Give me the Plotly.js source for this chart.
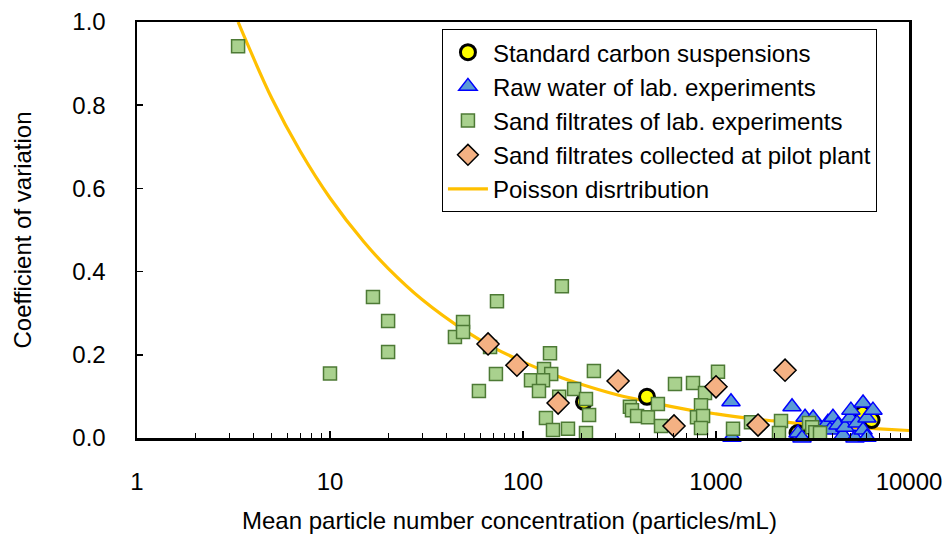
<!DOCTYPE html>
<html>
<head>
<meta charset="utf-8">
<script src="https://cdn.plot.ly/plotly-3.0.1.min.js"></script>
<style>html,body{margin:0;padding:0;background:#fff;}#chart{width:946px;height:539px;}</style>
</head>
<body>
<div id="chart"></div>
<script>
// Standard carbon suspensions
const carbonX = [207, 439, 2646, 5750, 6400];
const carbonY = [0.087, 0.099, 0.012, 0.058, 0.043];

// Raw water of lab. experiments
const rawX = [1196, 1210, 2477, 2660, 2790, 2893, 3185, 3458, 3803, 3899, 4037, 4285, 4550, 4660, 4945, 5000, 5250, 5380, 5780, 5780, 6055, 6055, 6505];
const rawY = [0.087, 0.002, 0.075, 0.012, 0.0, 0.050, 0.048, 0.024, 0.038, 0.019, 0.050, 0.031, 0.007, 0.026, 0.048, 0.067, 0.0, 0.036, 0.084, 0.019, 0.048, 0.002, 0.067];

// Sand filtrates of lab. experiments
const sandLabX = [3.34, 10, 16.7, 20, 20, 44.4, 48.9, 48.9, 73.3, 67.5, 72.4, 59.1, 138, 128.5, 140, 110, 127, 121, 159, 233, 184, 154, 212, 220, 131.5, 143, 171, 212, 358, 367, 390, 444, 500, 519, 613, 760, 1024, 877, 836, 797, 857, 836, 1225, 1518, 2172, 2120, 3034, 3150, 3270, 3458];
const sandLabY = [0.942, 0.155, 0.339, 0.281, 0.207, 0.243, 0.279, 0.255, 0.329, 0.219, 0.154, 0.113, 0.204, 0.166, 0.154, 0.139, 0.139, 0.113, 0.365, 0.161, 0.118, 0.099, 0.094, 0.055, 0.048, 0.019, 0.022, 0.012, 0.075, 0.067, 0.053, 0.050, 0.082, 0.029, 0.130, 0.132, 0.159, 0.108, 0.079, 0.050, 0.053, 0.024, 0.022, 0.038, 0.041, 0.012, 0.036, 0.026, 0.014, 0.012];

// Sand filtrates collected at pilot plant
const pilotX = [65.9, 93, 152, 311, 606, 1000, 1651, 2279];
const pilotY = [0.226, 0.175, 0.084, 0.137, 0.029, 0.123, 0.031, 0.163];

// Poisson disrtribution
const poissonX = [3.34, 5, 7, 10, 15, 20, 30, 50, 70, 100, 150, 200, 300, 500, 700, 1000, 1500, 2000, 3000, 5000, 7000, 10000];
const poissonY = [1.0, 0.816, 0.69, 0.577, 0.471, 0.408, 0.333, 0.258, 0.218, 0.183, 0.149, 0.129, 0.105, 0.082, 0.069, 0.058, 0.047, 0.041, 0.033, 0.026, 0.022, 0.018];

const xTickVals = [1, 10, 100, 1000, 10000];
const xTickText = ['1', '10', '100', '1000', '10000'];
const xMinorVals = [];
[1, 10, 100, 1000].forEach(d => { for (let k = 2; k <= 9; k++) xMinorVals.push(d * k); });

const xTitle = 'Mean particle number concentration (particles/mL)';
const yTitle = 'Coefficient of variation';

const FONT = 'Arial, "Liberation Sans", sans-serif';

const traces = [
  {
    x: poissonX, y: poissonY, type: 'scatter', mode: 'lines',
    name: 'Poisson disrtribution', legendrank: 5,
    line: {color: '#ffc000', width: 3.2, shape: 'spline'},
    cliponaxis: true
  },
  {
    x: carbonX, y: carbonY, type: 'scatter', mode: 'markers',
    name: 'Standard carbon suspensions', legendrank: 1,
    marker: {symbol: 'circle', size: 15, color: '#ffff00', line: {color: '#000000', width: 3}},
    cliponaxis: false
  },
  {
    x: rawX, y: rawY, type: 'scatter', mode: 'markers',
    name: 'Raw water of lab. experiments', legendrank: 2,
    marker: {symbol: 'triangle-up', size: 16, color: '#5b9bd5', line: {color: '#0000ff', width: 1.5}},
    cliponaxis: false
  },
  {
    x: sandLabX, y: sandLabY, type: 'scatter', mode: 'markers',
    name: 'Sand filtrates of lab. experiments', legendrank: 3,
    marker: {symbol: 'square', size: 13, color: '#a9d18e', line: {color: '#4d7a35', width: 1.5}},
    cliponaxis: false
  },
  {
    x: pilotX, y: pilotY, type: 'scatter', mode: 'markers',
    name: 'Sand filtrates collected at pilot plant', legendrank: 4,
    marker: {symbol: 'diamond', size: 17, color: '#f4b183', line: {color: '#000000', width: 1.5}},
    cliponaxis: false
  }
];

const layout = {
  width: 946, height: 539,
  margin: {l: 137, r: 37, t: 22, b: 101},
  paper_bgcolor: '#ffffff', plot_bgcolor: '#ffffff',
  font: {family: FONT, size: 24, color: '#000000'},
  showlegend: true,
  legend: {
    x: 0.395, y: 0.983, xanchor: 'left', yanchor: 'top',
    bgcolor: '#ffffff', bordercolor: '#000000', borderwidth: 1,
    font: {family: FONT, size: 24, color: '#000000'},
    itemwidth: 40, tracegroupgap: 0
  },
  annotations: [{
    text: xTitle, xref: 'paper', yref: 'paper', x: 0.482, y: -0.1995,
    xanchor: 'center', yanchor: 'middle', showarrow: false,
    font: {family: FONT, size: 24, color: '#000'}
  }],
  xaxis: {
    type: 'log', range: [0, 4],
    tickmode: 'array', tickvals: xTickVals, ticktext: xTickText,
    ticks: 'inside', ticklen: 7, tickwidth: 1.5, tickcolor: '#000',
    minor: {tickmode: 'array', tickvals: xMinorVals, ticks: 'inside', ticklen: 5, tickwidth: 1, tickcolor: '#000', showgrid: false},
    showline: true, linecolor: '#000', linewidth: 2.5, mirror: true,
    showgrid: false, zeroline: false,
    ticklabelstandoff: 21,
    tickfont: {family: FONT, size: 24, color: '#000'}
  },
  yaxis: {
    range: [0, 1], dtick: 0.2, tick0: 0, tickformat: '.1f',
    ticks: 'inside', ticklen: 6, tickwidth: 1.5, tickcolor: '#000',
    showline: true, linecolor: '#000', linewidth: 2.5, mirror: true,
    showgrid: false, zeroline: false,
    ticklabelstandoff: 24,
    tickfont: {family: FONT, size: 24, color: '#000'},
    title: {text: yTitle, font: {family: FONT, size: 24, color: '#000'}, standoff: 34}
  }
};

Plotly.newPlot('chart', traces, layout, {displayModeBar: false, staticPlot: true});
</script>
</body>
</html>
